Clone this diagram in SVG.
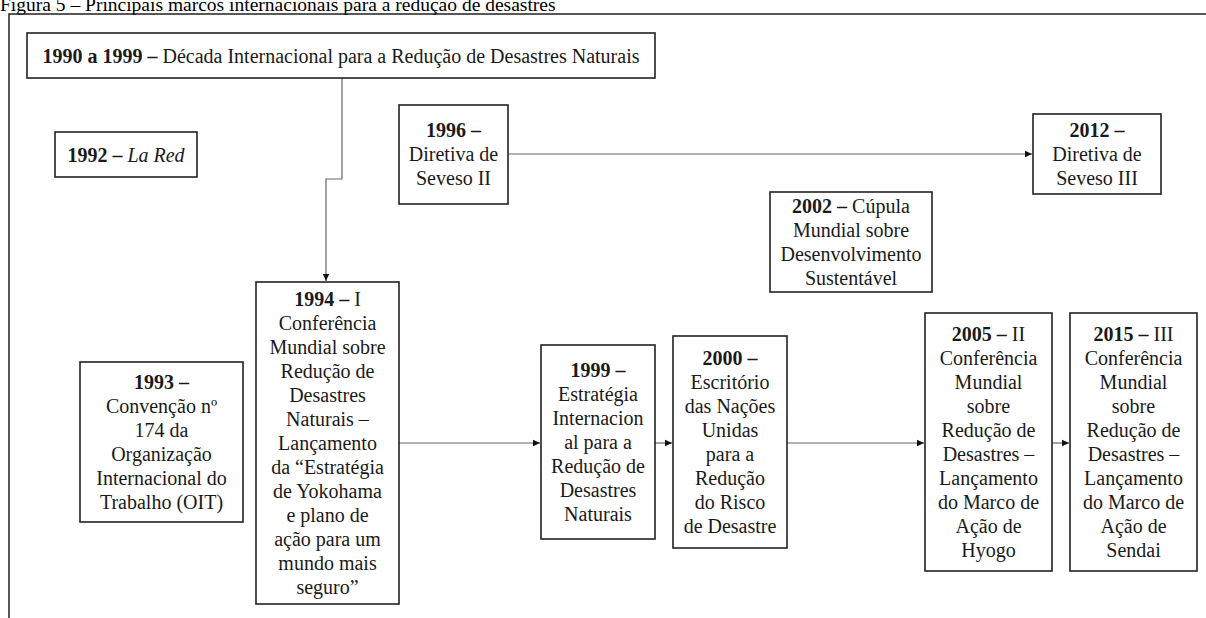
<svg xmlns="http://www.w3.org/2000/svg" width="1206" height="618" viewBox="0 0 1206 618">
  <style>
    .box { fill: #ffffff; stroke: #222222; stroke-width: 1.6; }
    .t { font-family: "Liberation Serif", "Times New Roman", serif; font-size: 20px; fill: #1a1a1a; text-anchor: middle; }
    .b { font-weight: bold; }
    .i { font-style: italic; }
    .frame { fill: none; stroke: #222222; stroke-width: 1.5; }
    .link { fill: none; stroke: #666666; stroke-width: 1.2; }
    .title { font-family: "Liberation Serif", "Times New Roman", serif; font-size: 19.5px; fill: #000000; }
  </style>
  <defs>
    <marker id="arrow" markerUnits="userSpaceOnUse" markerWidth="8" markerHeight="8" refX="7" refY="4" orient="auto">
      <path d="M0,0.8 L7,4 L0,7.2 z" fill="#111111"/>
    </marker>
  </defs>

  <rect width="1206" height="618" fill="#ffffff"/>

  <!-- caption, clipped by the page top -->
  <text class="title" x="0" y="10.5">Figura 5 – Principais marcos internacionais para a redução de desastres</text>

  <!-- outer frame: top and left edges -->
  <path class="frame" d="M9,618 L9,14 L1206,14"/>

  <g id="connectors">
    <path class="link" d="M342,78 L342,179 L326,179 L326,281" marker-end="url(#arrow)"/>
    <path class="link" d="M508,154 L1032,154" marker-end="url(#arrow)"/>
    <path class="link" d="M399,443 L540,443" marker-end="url(#arrow)"/>
    <path class="link" d="M655,443 L672,443" marker-end="url(#arrow)"/>
    <path class="link" d="M787,443 L924,443" marker-end="url(#arrow)"/>
    <path class="link" d="M1052,443 L1069,443" marker-end="url(#arrow)"/>
  </g>

  <g id="n1990">
    <rect class="box" x="27" y="33" width="628" height="45"/>
    <text class="t" x="341" y="63"><tspan class="b">1990 a 1999 –</tspan> Década Internacional para a Redução de Desastres Naturais</text>
  </g>

  <g id="n1992">
    <rect class="box" x="55" y="132" width="142" height="45"/>
    <text class="t" x="126" y="162"><tspan class="b">1992 –</tspan> <tspan class="i">La Red</tspan></text>
  </g>

  <g id="n1996">
    <rect class="box" x="399" y="105" width="109" height="99"/>
    <text class="t" x="453.5" y="137"><tspan class="b">1996 –</tspan></text>
    <text class="t" x="453.5" y="161">Diretiva de</text>
    <text class="t" x="453.5" y="185">Seveso II</text>
  </g>

  <g id="n2012">
    <rect class="box" x="1033" y="114" width="128" height="80"/>
    <text class="t" x="1097" y="137"><tspan class="b">2012 –</tspan></text>
    <text class="t" x="1097" y="161">Diretiva de</text>
    <text class="t" x="1097" y="185">Seveso III</text>
  </g>

  <g id="n2002">
    <rect class="box" x="770" y="192" width="162" height="100"/>
    <text class="t" x="851" y="213"><tspan class="b">2002 –</tspan> Cúpula</text>
    <text class="t" x="851" y="237">Mundial sobre</text>
    <text class="t" x="851" y="261">Desenvolvimento</text>
    <text class="t" x="851" y="285">Sustentável</text>
  </g>

  <g id="n1993">
    <rect class="box" x="80" y="362" width="163" height="160"/>
    <text class="t" x="161.5" y="389"><tspan class="b">1993 –</tspan></text>
    <text class="t" x="161.5" y="413">Convenção nº</text>
    <text class="t" x="161.5" y="437">174 da</text>
    <text class="t" x="161.5" y="461">Organização</text>
    <text class="t" x="161.5" y="485">Internacional do</text>
    <text class="t" x="161.5" y="509">Trabalho (OIT)</text>
  </g>

  <g id="n1994">
    <rect class="box" x="256" y="282" width="143" height="322"/>
    <text class="t" x="327.5" y="306"><tspan class="b">1994 –</tspan> I</text>
    <text class="t" x="327.5" y="330">Conferência</text>
    <text class="t" x="327.5" y="354">Mundial sobre</text>
    <text class="t" x="327.5" y="378">Redução de</text>
    <text class="t" x="327.5" y="402">Desastres</text>
    <text class="t" x="327.5" y="426">Naturais –</text>
    <text class="t" x="327.5" y="450">Lançamento</text>
    <text class="t" x="327.5" y="474">da “Estratégia</text>
    <text class="t" x="327.5" y="498">de Yokohama</text>
    <text class="t" x="327.5" y="522">e plano de</text>
    <text class="t" x="327.5" y="546">ação para um</text>
    <text class="t" x="327.5" y="570">mundo mais</text>
    <text class="t" x="327.5" y="594">seguro”</text>
  </g>

  <g id="n1999">
    <rect class="box" x="541" y="345" width="114" height="194"/>
    <text class="t" x="598" y="377"><tspan class="b">1999 –</tspan></text>
    <text class="t" x="598" y="401">Estratégia</text>
    <text class="t" x="598" y="425">Internacion</text>
    <text class="t" x="598" y="449">al para a</text>
    <text class="t" x="598" y="473">Redução de</text>
    <text class="t" x="598" y="497">Desastres</text>
    <text class="t" x="598" y="521">Naturais</text>
  </g>

  <g id="n2000">
    <rect class="box" x="673" y="336" width="114" height="212"/>
    <text class="t" x="730" y="365"><tspan class="b">2000 –</tspan></text>
    <text class="t" x="730" y="389">Escritório</text>
    <text class="t" x="730" y="413">das Nações</text>
    <text class="t" x="730" y="437">Unidas</text>
    <text class="t" x="730" y="461">para a</text>
    <text class="t" x="730" y="485">Redução</text>
    <text class="t" x="730" y="509">do Risco</text>
    <text class="t" x="730" y="533">de Desastre</text>
  </g>

  <g id="n2005">
    <rect class="box" x="925" y="313" width="127" height="258"/>
    <text class="t" x="988.5" y="341"><tspan class="b">2005 –</tspan> II</text>
    <text class="t" x="988.5" y="365">Conferência</text>
    <text class="t" x="988.5" y="389">Mundial</text>
    <text class="t" x="988.5" y="413">sobre</text>
    <text class="t" x="988.5" y="437">Redução de</text>
    <text class="t" x="988.5" y="461">Desastres –</text>
    <text class="t" x="988.5" y="485">Lançamento</text>
    <text class="t" x="988.5" y="509">do Marco de</text>
    <text class="t" x="988.5" y="533">Ação de</text>
    <text class="t" x="988.5" y="557">Hyogo</text>
  </g>

  <g id="n2015">
    <rect class="box" x="1070" y="313" width="127" height="258"/>
    <text class="t" x="1133.5" y="341"><tspan class="b">2015 –</tspan> III</text>
    <text class="t" x="1133.5" y="365">Conferência</text>
    <text class="t" x="1133.5" y="389">Mundial</text>
    <text class="t" x="1133.5" y="413">sobre</text>
    <text class="t" x="1133.5" y="437">Redução de</text>
    <text class="t" x="1133.5" y="461">Desastres –</text>
    <text class="t" x="1133.5" y="485">Lançamento</text>
    <text class="t" x="1133.5" y="509">do Marco de</text>
    <text class="t" x="1133.5" y="533">Ação de</text>
    <text class="t" x="1133.5" y="557">Sendai</text>
  </g>
</svg>
